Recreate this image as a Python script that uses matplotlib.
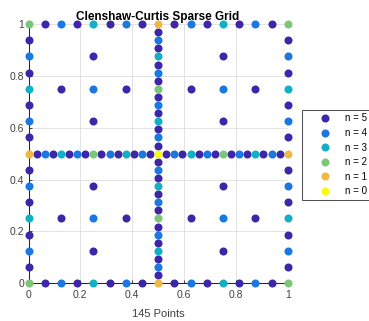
import matplotlib
matplotlib.use("Agg")
import matplotlib.pyplot as plt
from matplotlib.lines import Line2D

# 1D nested node sets per level (new points added at each level)
nodes_by_level = [
    [0.5],
    [0.0, 1.0],
    [0.25, 0.75],
    [0.125, 0.375, 0.625, 0.875],
    [0.0625, 0.1875, 0.3125, 0.4375, 0.5625, 0.6875, 0.8125, 0.9375],
    [0.03125, 0.09375, 0.15625, 0.21875, 0.28125, 0.34375, 0.40625, 0.46875,
     0.53125, 0.59375, 0.65625, 0.71875, 0.78125, 0.84375, 0.90625, 0.96875],
]
levels = [5, 4, 3, 2, 1, 0]
level_labels = ["n = 5", "n = 4", "n = 3", "n = 2", "n = 1", "n = 0"]
level_colors = ["#3e26a8", "#1a78e0", "#12b0c4", "#7cc67a", "#f0b844", "#f9fb0e"]
tick_vals = [0, 0.2, 0.4, 0.6, 0.8, 1]
tick_labels = ["0", "0.2", "0.4", "0.6", "0.8", "1"]
title = "Clenshaw-Curtis Sparse Grid"
xlabel = "145 Points"

plt.rcParams['font.family'] = ['Liberation Sans', 'DejaVu Sans']

fig = plt.figure(figsize=(3.69, 3.21), dpi=100)
ax = fig.add_axes([28.5/369, 1-283.3/321, 259.2/369, 259.3/321])

MS = 5.8
handles = []
for n, lab, col in zip(levels, level_labels, level_colors):
    xs, ys = [], []
    for l1 in range(n + 1):
        l2 = n - l1
        for a in nodes_by_level[l1]:
            for b in nodes_by_level[l2]:
                xs.append(a)
                ys.append(b)
    ax.plot(xs, ys, linestyle='none', marker='o', markersize=MS,
            markerfacecolor=col, markeredgewidth=0, clip_on=False, zorder=3)
    handles.append(Line2D([], [], linestyle='none', marker='o', markersize=MS,
                          markerfacecolor=col, markeredgewidth=0, label=lab))

ax.set_xlim(0, 1)
ax.set_ylim(0, 1)
ax.set_xticks(tick_vals)
ax.set_xticklabels(tick_labels)
ax.set_yticks(tick_vals)
ax.set_yticklabels(tick_labels)
ax.grid(True, color='#dedede', linewidth=0.6, zorder=0)
ax.set_axisbelow(True)
for s in ['top', 'right']:
    ax.spines[s].set_visible(False)
for s in ['left', 'bottom']:
    ax.spines[s].set_color('#262626')
    ax.spines[s].set_linewidth(0.75)
ax.tick_params(direction='in', length=2.5, width=0.6, colors='#262626',
               labelsize=7.5, labelcolor='#404040')
ax.tick_params(axis='x', pad=5)
ax.tick_params(axis='y', pad=3)
t = ax.set_title(title, fontsize=8.5, fontweight='bold', pad=3.2)
t.set_zorder(10)
ax.set_xlabel(xlabel, fontsize=8, color='#404040', labelpad=6)

leg = fig.legend(handles=handles, loc='upper left',
                 bbox_to_anchor=(302/369, 1-110/321), bbox_transform=fig.transFigure,
                 fontsize=7, frameon=True, fancybox=False, borderpad=0.35,
                 handlelength=4.0, handletextpad=0.1, labelspacing=0.47,
                 borderaxespad=0)
leg.get_frame().set_edgecolor('#262626')
leg.get_frame().set_linewidth(0.75)

fig.savefig("out.png", dpi=100)
